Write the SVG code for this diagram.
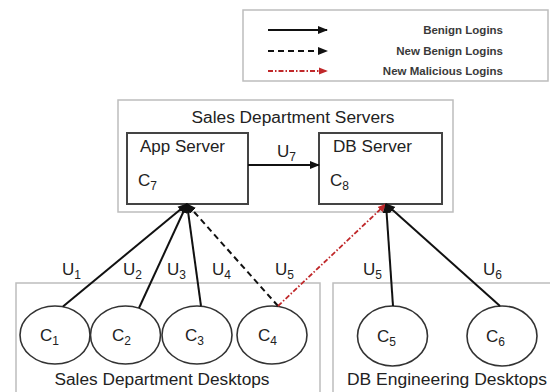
<svg xmlns="http://www.w3.org/2000/svg" width="550" height="392" viewBox="0 0 550 392">
<defs>
<marker id="ab" viewBox="0 0 10 10" refX="9" refY="5" markerWidth="5" markerHeight="5" orient="auto" markerUnits="strokeWidth"><path d="M0,1 L10,5 L0,9 z" fill="#111"/></marker>
<marker id="ar" viewBox="0 0 10 10" refX="9" refY="5" markerWidth="5" markerHeight="5" orient="auto" markerUnits="strokeWidth"><path d="M0,1 L10,5 L0,9 z" fill="#c0282a"/></marker>
<style>
.grp{fill:none;stroke:#bdbdbd;stroke-width:1.5}
.box{fill:#fff;stroke:#444;stroke-width:2}
.host{fill:#fff;stroke:#333;stroke-width:1.6}
.t{font-family:"Liberation Sans",Arial,sans-serif;fill:#222}
.lab{font-size:16px}
.c{font-size:17px}
.sub{font-size:12px}
.leg{font-family:"Liberation Sans",Arial,sans-serif;font-size:11.5px;font-weight:bold;fill:#3a3a3a;text-anchor:end}
.ben{stroke:#111;stroke-width:2;fill:none;marker-end:url(#ab)}
.nb{stroke:#111;stroke-width:2;fill:none;stroke-dasharray:6,4;marker-end:url(#ab)}
.mal{stroke:#c0282a;stroke-width:1.8;fill:none;stroke-dasharray:5,2,1.5,2;marker-end:url(#ar)}
</style>
</defs>
<rect width="550" height="392" fill="#fff"/>

<g id="legend">
<rect x="243" y="10" width="305" height="71" class="grp"/>
<line x1="268" y1="30" x2="327" y2="30" class="ben"/>
<line x1="268" y1="51" x2="327" y2="51" class="nb"/>
<line x1="268" y1="71" x2="327" y2="71" class="mal"/>
<text x="503" y="34" class="leg">Benign Logins</text>
<text x="503" y="55" class="leg">New Benign Logins</text>
<text x="503" y="75" class="leg">New Malicious Logins</text>
</g>

<g id="sales-servers">
<rect x="118" y="100" width="335" height="112" class="grp"/>
<text x="293" y="123" class="t lab" text-anchor="middle" textLength="203" lengthAdjust="spacingAndGlyphs">Sales Department Servers</text>
</g>
<g id="app-server">
<rect x="127" y="133" width="121" height="71" class="box"/>
<text x="140" y="152" class="t lab" textLength="85" lengthAdjust="spacingAndGlyphs">App Server</text>
<text x="138" y="186" class="t c">C<tspan class="sub" dy="4">7</tspan></text>
</g>
<g id="db-server">
<rect x="319" y="133" width="123" height="71" class="box"/>
<text x="333" y="152" class="t lab" textLength="79" lengthAdjust="spacingAndGlyphs">DB Server</text>
<text x="330" y="186" class="t c">C<tspan class="sub" dy="4">8</tspan></text>
</g>

<g id="sales-desktops">
<rect x="16" y="283" width="304" height="120" class="grp"/>
<text x="162" y="385" class="t lab" text-anchor="middle" textLength="215" lengthAdjust="spacingAndGlyphs">Sales Department Desktops</text>
</g>
<g id="db-desktops">
<rect x="333" y="283" width="230" height="120" class="grp"/>
<text x="447" y="385" class="t lab" text-anchor="middle" textLength="200" lengthAdjust="spacingAndGlyphs">DB Engineering Desktops</text>
</g>

<g id="c1"><ellipse cx="55" cy="335" rx="35" ry="29" class="host"/><text x="40" y="341" class="t c">C<tspan class="sub" dy="4">1</tspan></text></g>
<g id="c2"><ellipse cx="125.5" cy="335" rx="35" ry="29" class="host"/><text x="112" y="341" class="t c">C<tspan class="sub" dy="4">2</tspan></text></g>
<g id="c3"><ellipse cx="197" cy="335" rx="35" ry="29" class="host"/><text x="185" y="341" class="t c">C<tspan class="sub" dy="4">3</tspan></text></g>
<g id="c4"><ellipse cx="272" cy="335" rx="35" ry="29" class="host"/><text x="258" y="341" class="t c">C<tspan class="sub" dy="4">4</tspan></text></g>
<g id="c5"><ellipse cx="392.5" cy="336" rx="35" ry="30" class="host"/><text x="377" y="342" class="t c">C<tspan class="sub" dy="4">5</tspan></text></g>
<g id="c6"><ellipse cx="502" cy="336" rx="35" ry="30" class="host"/><text x="486" y="342" class="t c">C<tspan class="sub" dy="4">6</tspan></text></g>

<g id="connectors">
<line x1="248" y1="165" x2="319" y2="165" class="ben"/>
<line x1="63" y1="306.5" x2="187" y2="204" class="ben"/>
<line x1="139" y1="308" x2="187" y2="204" class="ben"/>
<line x1="201" y1="306" x2="187" y2="204" class="ben"/>
<line x1="278" y1="306" x2="187" y2="204" class="nb"/>
<line x1="278" y1="306" x2="386" y2="204" class="mal"/>
<line x1="393" y1="306" x2="386" y2="204" class="ben"/>
<line x1="500" y1="306" x2="386" y2="204" class="ben"/>
</g>

<g id="labels">
<text x="277" y="157" class="t c">U<tspan class="sub" dy="4">7</tspan></text>
<text x="62" y="275" class="t c">U<tspan class="sub" dy="4">1</tspan></text>
<text x="123" y="275" class="t c">U<tspan class="sub" dy="4">2</tspan></text>
<text x="167" y="275" class="t c">U<tspan class="sub" dy="4">3</tspan></text>
<text x="212" y="275" class="t c">U<tspan class="sub" dy="4">4</tspan></text>
<text x="275" y="275" class="t c">U<tspan class="sub" dy="4">5</tspan></text>
<text x="363" y="275" class="t c">U<tspan class="sub" dy="4">5</tspan></text>
<text x="483" y="275" class="t c">U<tspan class="sub" dy="4">6</tspan></text>
</g>
</svg>
